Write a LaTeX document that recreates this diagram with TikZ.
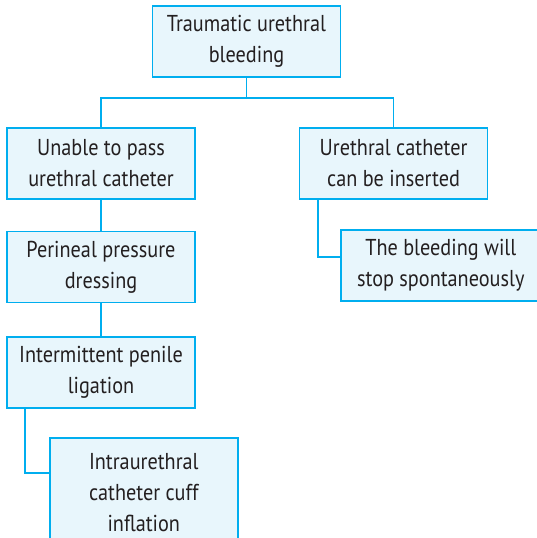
\documentclass[tikz,border=0pt]{standalone}
\usepackage{fontspec}
\setmainfont[FakeStretch=0.88]{PT Sans}
\usetikzlibrary{positioning,calc}
\definecolor{FlowCyan}{RGB}{0,174,239}
\definecolor{FlowFill}{RGB}{232,246,252}
\definecolor{FlowText}{RGB}{35,31,32}

\begin{document}
\begin{tikzpicture}[x=0.5pt,y=-0.5pt,
      box/.style={draw=FlowCyan,fill=FlowFill,line width=0.8pt,
        minimum width=94pt,minimum height=35.5pt,align=center,
        text=FlowText,font=\fontsize{11.5}{15.5}\selectfont,inner sep=2pt},
      link/.style={draw=FlowCyan,line width=0.75pt}
    ]
      \useasboundingbox (0,0) rectangle (537,538);
      \node[box,anchor=north] (trauma) at (246.5,5)
        {Traumatic urethral\\bleeding};
      \node[box,anchor=north] (unable) at (101,127)
        {Unable to pass\\urethral catheter};
      \node[box,right=51.5pt of unable] (inserted)
        {Urethral catheter\\can be inserted};
      \node[box,below=15.5pt of unable] (perineal)
        {Perineal pressure\\dressing};
      \node[box,below=16.5pt of perineal] (penile)
        {Intermittent penile\\ligation};
      \node[box,anchor=north west,minimum height=55pt] (cuff) at (49,437)
        {Intraurethral\\catheter cuff\\inflation};
      \node[box,anchor=north west,minimum width=100pt] (stop) at (340,229)
        {The bleeding will\\stop spontaneously};
      \coordinate (split) at (246.5,98);
      \draw[link] (trauma) -- (split);
      \draw[link] (unable.north) |- (split) -| (inserted.north);
      \draw[link] (unable) -- (perineal);
      \draw[link] (perineal) -- (penile);
      \draw[link] ([xshift=9.5pt]penile.south west)
        |- ([yshift=-18pt]cuff.north west);
      \draw[link] ([xshift=9.5pt]inserted.south west)
        |- ([yshift=-14pt]stop.north west);
    \end{tikzpicture}
\end{document}
